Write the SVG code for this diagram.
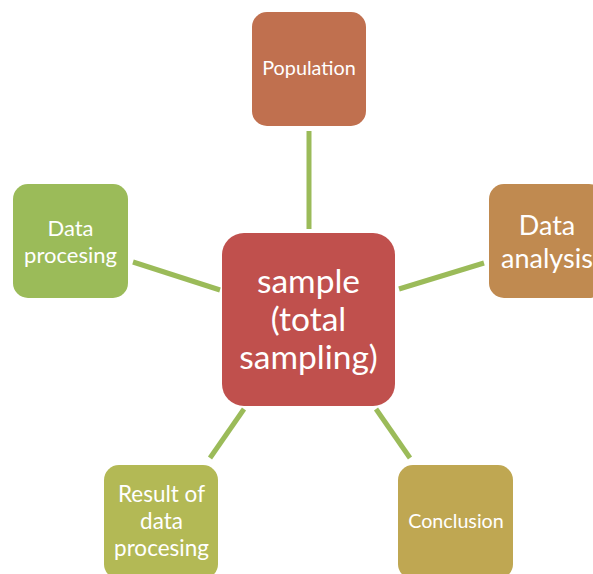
<svg xmlns="http://www.w3.org/2000/svg" width="593" height="574" viewBox="0 0 593 574">
<style>
.lbl{font-family:Lato,"Open Sans","Liberation Sans",sans-serif;fill:#fff;text-anchor:middle;dominant-baseline:central}
.con{stroke:#9BBB59;stroke-width:5;fill:none}
</style>
<rect width="593" height="574" fill="#fff"/>
<g id="connectors">
<line class="con" x1="309" y1="131" x2="309" y2="229"/>
<line class="con" x1="133" y1="262" x2="220" y2="290"/>
<line class="con" x1="399" y1="289" x2="484" y2="263"/>
<line class="con" x1="210" y1="458" x2="244" y2="409"/>
<line class="con" x1="376" y1="409" x2="410" y2="458"/>
</g>
<g id="population">
<rect x="252" y="12" width="114" height="114" rx="15" fill="#C0704F"/>
<text class="lbl" x="309" y="67" font-size="19.8">Population</text>
</g>
<g id="data-procesing">
<rect x="13" y="184" width="115" height="114" rx="15" fill="#9BBB59"/>
<text class="lbl" x="70.5" y="227" font-size="22">Data</text>
<text class="lbl" x="70.5" y="254" font-size="22">procesing</text>
</g>
<g id="data-analysis">
<rect x="489" y="184" width="115" height="114" rx="15" fill="#C08A50"/>
<text class="lbl" x="547" y="224" font-size="27">Data</text>
<text class="lbl" x="547" y="257" font-size="27">analysis</text>
</g>
<g id="sample">
<rect x="222" y="233" width="173" height="173" rx="22" fill="#C0504D"/>
<text class="lbl" x="308.5" y="279.5" font-size="33.5">sample</text>
<text class="lbl" x="308.5" y="317.5" font-size="33.5">(total</text>
<text class="lbl" x="308.5" y="355.5" font-size="33.5">sampling)</text>
</g>
<g id="result">
<rect x="104" y="465" width="114" height="114" rx="15" fill="#B3B955"/>
<text class="lbl" x="161.5" y="493" font-size="22.5">Result of</text>
<text class="lbl" x="161.5" y="520" font-size="22.5">data</text>
<text class="lbl" x="161.5" y="547" font-size="22.5">procesing</text>
</g>
<g id="conclusion">
<rect x="398" y="465" width="115" height="114" rx="15" fill="#BFA752"/>
<text class="lbl" x="456" y="520" font-size="19.7">Conclusion</text>
</g>
</svg>
